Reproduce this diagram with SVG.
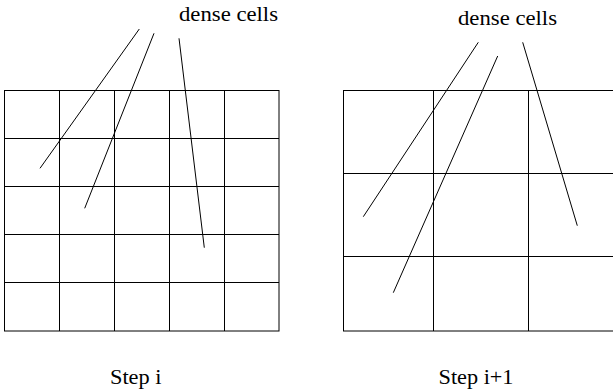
<svg xmlns="http://www.w3.org/2000/svg" width="613" height="390" viewBox="0 0 613 390">
<style>
.g{fill:none;stroke:#000;stroke-width:1}
.c{fill:none;stroke:#000;stroke-width:1}
text{font-family:'Liberation Serif','Times New Roman','DejaVu Serif',serif;font-size:20px;fill:#000}
</style>
<rect width="613" height="390" fill="#fff"/>
<g id="grid-step-i" class="g">
<rect x="4.5" y="90.5" width="274.5" height="240.5"/>
<path d="M59.5 90.5V331M114.5 90.5V331M169.5 90.5V331M224.5 90.5V331M4.5 138.5H279M4.5 186.5H279M4.5 234.5H279M4.5 282.5H279"/>
</g>
<g id="grid-step-i1" class="g">
<rect x="343.5" y="90.5" width="272" height="240.5"/>
<path d="M433.5 90.5V331M528.5 90.5V331M343.5 173.5H615M343.5 256.5H615"/>
</g>
<g id="connectors" class="c">
<line x1="139.3" y1="29" x2="40" y2="168.3"/>
<line x1="154" y1="33.3" x2="84.7" y2="208.3"/>
<line x1="179" y1="38.3" x2="204.3" y2="247.7"/>
<line x1="478.3" y1="42.3" x2="363.3" y2="216.7"/>
<line x1="497.7" y1="56" x2="393.3" y2="292.7"/>
<line x1="522.7" y1="42.3" x2="577.3" y2="225.7"/>
</g>
<g id="labels">
<text id="label-dense-left" x="179" y="20.5" font-family="Liberation Serif, serif" textLength="99" lengthAdjust="spacingAndGlyphs">dense cells</text>
<text id="label-dense-right" x="458" y="25" font-family="Liberation Serif, serif" textLength="99" lengthAdjust="spacingAndGlyphs">dense cells</text>
<text id="label-step-i" x="110" y="384" font-family="Liberation Serif, serif" textLength="51.5" lengthAdjust="spacingAndGlyphs">Step i</text>
<text id="label-step-i1" x="438.5" y="384" font-family="Liberation Serif, serif" textLength="75" lengthAdjust="spacingAndGlyphs">Step i+1</text>
</g>
</svg>
